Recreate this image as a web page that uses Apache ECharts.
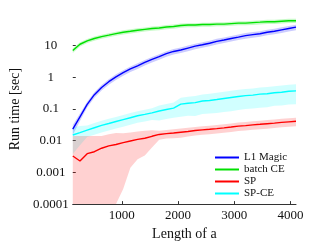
<!DOCTYPE html>
<html>
<head>
<meta charset="utf-8">
<script src="https://cdn.jsdelivr.net/npm/echarts@6/dist/echarts.min.js"></script>
<style>html,body{margin:0;padding:0;background:#fff}#c{width:327px;height:246px}</style>
</head>
<body>
<div id="c"></div>
<script>
var lengths = [128,256,384,512,640,768,896,1024,1152,1280,1408,1536,1664,1792,1920,2048,2176,2304,2432,2560,2688,2816,2944,3072,3200,3328,3456,3584,3712,3840,3968,4096];
var xTicks = [1000,2000,3000,4000];
var yTicks = [0.0001,0.001,0.01,0.1,1,10];
var seriesNames = ['L1 Magic','batch CE','SP','SP-CE'];

var l1Mean = [0.0231,0.057,0.141,0.285,0.48,0.73,1.04,1.41,1.84,2.31,2.95,3.69,4.49,5.6,6.58,7.31,8.4,9.66,10.7,11.9,13.7,15.1,16.9,18.7,20.8,22.3,23.9,26.6,28.5,31.6,35,38.5];
var l1Std  = [0.008,0.015,0.03,0.057,0.096,0.146,0.21,0.28,0.37,0.46,0.59,0.74,0.9,1.12,1.3,1.46,1.68,1.93,2.14,2.38,2.74,3.0,3.4,3.7,4.2,4.5,4.8,5.3,5.7,6.3,7.0,7.7];

var batchMean = [7.0,11.1,14.2,16.9,19.4,21.5,24,26.6,28.5,30.6,32.8,35,36.3,39,40.4,43.3,44.8,44.8,46.4,46.4,48,48,49.7,51.5,51.5,53.3,55.2,57.2,57.2,59.2,61.3,61.3];
var batchStd  = [1.1,1.7,2.1,2.5,2.9,3.2,3.6,4.0,4.3,4.6,4.9,5.3,5.4,5.9,6.1,6.5,6.7,6.7,7.0,7.0,7.2,7.2,7.5,7.7,7.7,8.0,8.3,8.6,8.6,8.9,9.2,9.2];

var spMean = [0.0033,0.0023,0.0039,0.0045,0.0058,0.0069,0.0076,0.0087,0.0098,0.011,0.012,0.0138,0.0158,0.0168,0.0175,0.0185,0.0195,0.021,0.022,0.023,0.0242,0.0255,0.027,0.029,0.030,0.0316,0.033,0.0345,0.036,0.038,0.0395,0.041];
var spStd  = [0.0108,0.0118,0.0102,0.0096,0.0083,0.0091,0.0098,0.0084,0.0084,0.0084,0.0086,0.0077,0.005,0.005,0.0055,0.006,0.006,0.0063,0.0066,0.0069,0.0073,0.0077,0.0081,0.0087,0.009,0.0095,0.0099,0.0104,0.0108,0.0114,0.0119,0.0123];

var spceMean = [0.0152,0.0181,0.0216,0.0257,0.0305,0.035,0.0404,0.0464,0.0533,0.0613,0.068,0.0757,0.087,0.0966,0.107,0.143,0.153,0.16,0.18,0.187,0.2,0.215,0.231,0.248,0.265,0.275,0.295,0.305,0.327,0.339,0.363,0.376];
var spceStd  = [0.0114,0.0109,0.0086,0.0103,0.0122,0.014,0.0162,0.0186,0.0213,0.0245,0.0272,0.0303,0.0435,0.048,0.054,0.086,0.092,0.1,0.11,0.115,0.125,0.135,0.145,0.155,0.165,0.17,0.185,0.19,0.2,0.21,0.225,0.235];

var Y_MIN = 1e-4, Y_MAX = 100;
var serif = 'Liberation Serif';

function pairs(ys){ return lengths.map(function(x,i){ return [x, ys[i]]; }); }

function band(mean, std, fill){
  return {
    type: 'custom',
    silent: true,
    clip: true,
    z: 1,
    data: [[lengths[0], mean[0]]],
    encode: {x: 0, y: 1},
    renderItem: function(params, api){
      var pts = [];
      for (var i = 0; i < lengths.length; i++) {
        var u = Math.min(Y_MAX, mean[i] + std[i]);
        pts.push(api.coord([lengths[i], u]));
      }
      for (var j = lengths.length - 1; j >= 0; j--) {
        var l = Math.max(Y_MIN, mean[j] - std[j]);
        pts.push(api.coord([lengths[j], l]));
      }
      return {type: 'polygon', shape: {points: pts}, style: {fill: fill, stroke: null}};
    }
  };
}

function line(name, data, color){
  return {
    name: name, type: 'line', data: pairs(data), symbol: 'none', z: 5,
    lineStyle: {color: color, width: 1.4}, itemStyle: {color: color}
  };
}

var chart = echarts.init(document.getElementById('c'), null, {renderer: 'canvas'});
chart.setOption({
  animation: false,
  backgroundColor: '#fff',
  grid: {left: 62, right: 31, top: 14, bottom: 34},
  legend: {
    orient: 'vertical', left: 210, top: 147, itemGap: 1,
    itemWidth: 24, itemHeight: 2, icon: 'rect',
    data: seriesNames,
    textStyle: {fontFamily: serif, fontSize: 11, color: '#111', padding: [0,0,0,0]}
  },
  xAxis: {
    type: 'value', min: 128, max: 4096,
    name: 'Length of a', nameLocation: 'middle', nameGap: 21,
    nameTextStyle: {fontFamily: serif, fontSize: 14, color: '#111'},
    axisLine: {show: true, lineStyle: {color: '#333', width: 1}},
    axisTick: {show: true, inside: true, length: 3, customValues: xTicks, lineStyle: {color: '#333'}},
    axisLabel: {customValues: xTicks, margin: 5, fontFamily: serif, fontSize: 13, color: '#111',
      formatter: function(v){ return String(v); }},
    splitLine: {show: false}
  },
  yAxis: {
    type: 'log', logBase: 10, min: Y_MIN, max: Y_MAX,
    name: 'Run time [sec]', nameLocation: 'middle', nameGap: 49, nameRotate: 90,
    nameTextStyle: {fontFamily: serif, fontSize: 14, color: '#111'},
    axisLine: {show: false},
    axisTick: {show: true, inside: true, length: 3, customValues: yTicks, lineStyle: {color: '#333'}},
    axisLabel: {
      customValues: yTicks,
      margin: 22, align: 'center', fontFamily: serif, fontSize: 13, color: '#111',
      formatter: function(v){ if (v >= 99) return ''; return String(parseFloat(Number(v).toPrecision(6))); }
    },
    splitLine: {show: false}
  },
  series: [
    band(l1Mean, l1Std, 'rgba(0,0,255,0.2)'),
    band(batchMean, batchStd, 'rgba(0,230,0,0.22)'),
    band(spceMean, spceStd, 'rgba(0,255,255,0.18)'),
    band(spMean, spStd, 'rgba(255,0,0,0.18)'),
    line(seriesNames[0], l1Mean, '#0000ff'),
    line(seriesNames[1], batchMean, '#00e000'),
    line(seriesNames[2], spMean, '#ff0000'),
    line(seriesNames[3], spceMean, '#00ffff')
  ]
});
</script>
</body>
</html>
